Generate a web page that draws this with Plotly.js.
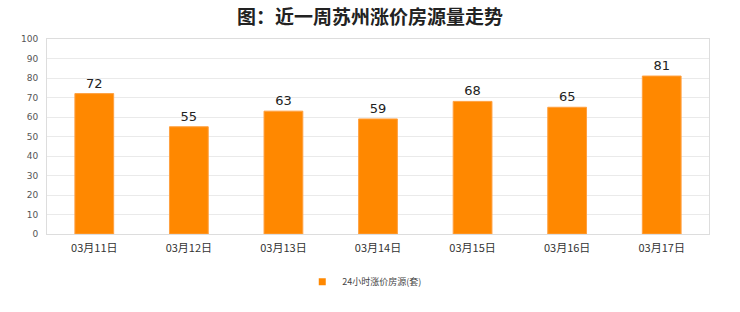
<!DOCTYPE html>
<html>
<head>
<meta charset="utf-8">
<script src="https://cdn.plot.ly/plotly-3.0.1.min.js"></script>
<style>html,body{margin:0;padding:0;background:#fff;}#chart{width:740px;height:312px;}</style>
</head>
<body>
<div id="chart"></div>
<script>
const categories = ["03月11日","03月12日","03月13日","03月14日","03月15日","03月16日","03月17日"];
const values = [72, 55, 63, 59, 68, 65, 81];
const seriesName = "24小时涨价房源(套)";
const yTicks = [0,10,20,30,40,50,60,70,80,90,100];

const barTrace = {
  type: "bar",
  x: categories,
  y: values,
  name: seriesName,
  text: values.map(String),
  textposition: "outside",
  cliponaxis: false,
  textfont: {size: 13, color: "#222", family: "DejaVu Sans, sans-serif"},
  marker: {color: "#FF8800", line: {color: "#FFA040", width: 1}},
  showlegend: false
};

// legend-only entry with a small square marker
const legendTrace = {
  type: "scatter",
  mode: "markers",
  x: [null], y: [null],
  name: seriesName,
  marker: {symbol: "square", size: 7, color: "#FF8800"},
  showlegend: true,
  hoverinfo: "skip"
};

const layout = {
  width: 740, height: 312,
  margin: {l: 47, r: 31, t: 39, b: 78},
  paper_bgcolor: "#fff", plot_bgcolor: "#fff",
  title: {text: "图：近一周苏州涨价房源量走势", x: 0.5, xanchor: "center", y: 0.945, yanchor: "middle",
    font: {size: 19, color: "#222", family: "Noto Sans CJK SC, sans-serif", weight: "bold"}},
  bargap: 0.59,
  xaxis: {
    type: "category",
    tickfont: {size: 11, color: "#333", family: "Noto Sans CJK SC, serif"},
    showline: true, linecolor: "#ddd", linewidth: 1, mirror: true,
    showgrid: false, ticks: "", ticklen: 0, automargin: false, ticklabelstandoff: 4
  },
  yaxis: {
    range: [0, 100],
    tickvals: yTicks,
    tickfont: {size: 9, color: "#555", family: "DejaVu Sans, sans-serif"},
    showline: true, linecolor: "#ddd", linewidth: 1, mirror: true,
    gridcolor: "#eaeaea", gridwidth: 1, zeroline: false,
    ticks: "", ticklabelstandoff: 6, automargin: false
  },
  legend: {orientation: "h", x: 0.48, xanchor: "center", y: -0.245, yanchor: "middle",
    itemwidth: 30,
    font: {size: 9, color: "#444", family: "Noto Sans CJK SC, sans-serif"}},
  showlegend: true
};

Plotly.newPlot("chart", [barTrace, legendTrace], layout, {displayModeBar: false, staticPlot: true});
</script>
</body>
</html>
